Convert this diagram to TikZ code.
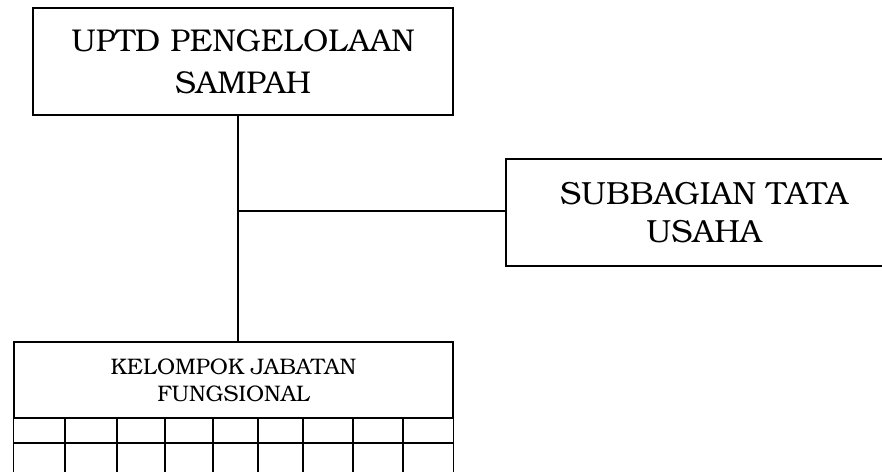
\documentclass[tikz,border=0pt]{standalone}
\usepackage{fontspec}
\setmainfont{TeX Gyre Bonum}
\begin{document}
\begin{tikzpicture}[x=1pt,y=-1pt,
  box/.style={draw,line width=1.4pt,align=center,inner sep=0pt},
  conn/.style={line width=1.4pt}]
\useasboundingbox (0,0) rectangle (882,471);
\node[box,minimum width=420,minimum height=107,font=\fontsize{31.5}{42}\selectfont] (top) at (243,61.5) {UPTD PENGELOLAAN\\SAMPAH};
\node[box,minimum width=396,minimum height=107,font=\fontsize{32}{38}\selectfont] (sub) at (704,212.5) {SUBBAGIAN TATA\\USAHA};
\node[box,minimum width=439,minimum height=76,font=\fontsize{22.5}{27}\selectfont] (tab) at (233.5,380) {KELOMPOK JABATAN\\FUNGSIONAL};
\coordinate (j) at (238,211);
\draw[conn] (j |- top.south) -- (j |- tab.north);
\draw[conn] (j) -- (j -| sub.west);
\draw[conn] (tab.south west) -- ++(0,57) (tab.south east) -- ++(0,57);
\draw[conn] (14,443) -- (453,443);
\foreach \x in {65,117,165,213,258,303,353,403} \draw[conn] (\x,418) -- (\x,475);
\end{tikzpicture}
\end{document}
